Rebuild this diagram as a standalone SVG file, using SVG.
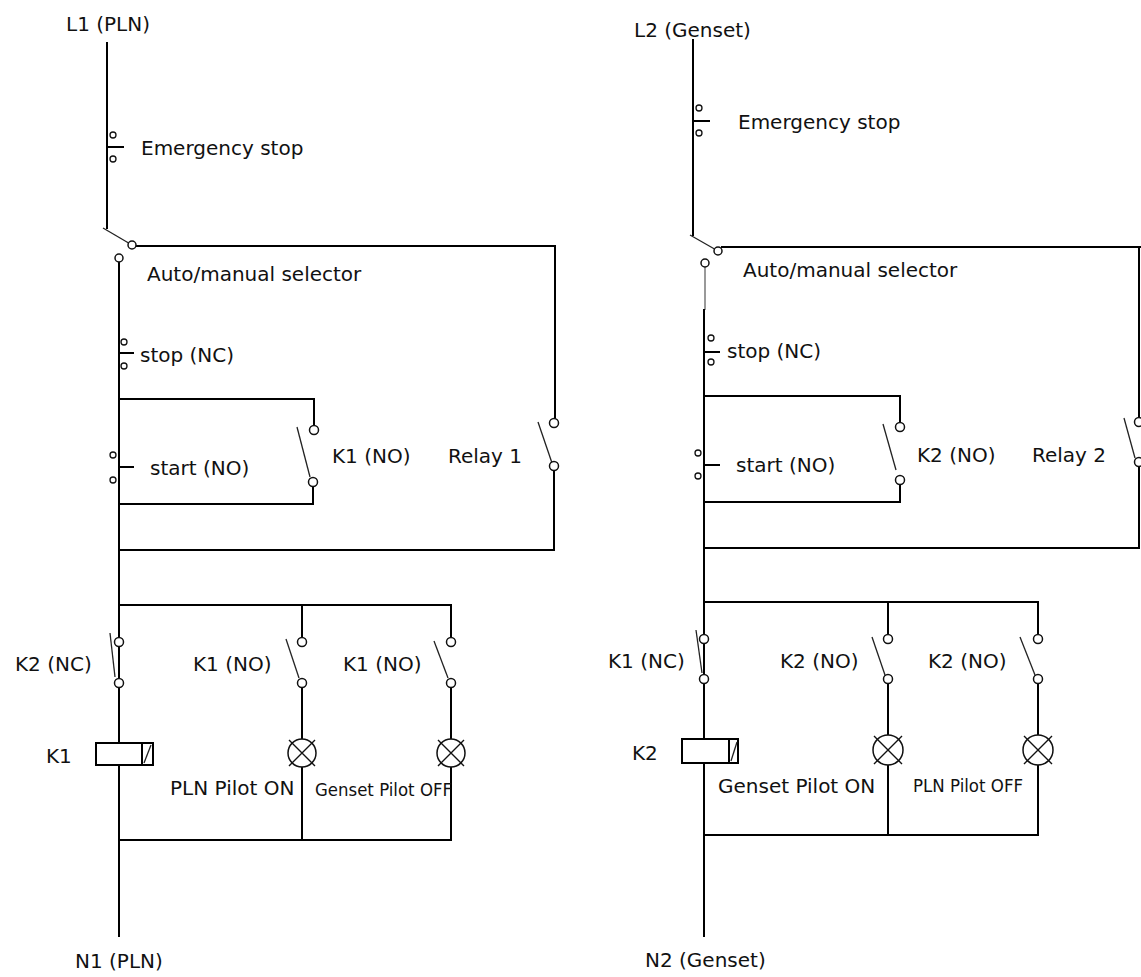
<svg xmlns="http://www.w3.org/2000/svg" width="1141" height="977" viewBox="0 0 1141 977">
<style>
.w{stroke:#000;stroke-width:2;fill:none;stroke-linecap:square}
.g{stroke:#999;stroke-width:2;fill:none}
.b{stroke:#222;stroke-width:1.3;fill:none}
.t{fill:#fff;stroke:#111;stroke-width:1.5}
.s{fill:#fff;stroke:#111;stroke-width:1.3}
.box{fill:#fff;stroke:#000;stroke-width:2}
.lp{fill:#fff;stroke:#111;stroke-width:1.5}
.x{stroke:#111;stroke-width:1.4}
text{font-family:"DejaVu Sans","Liberation Sans",sans-serif;font-size:20px;fill:#111}
.sm{font-size:17px}
</style>
<g id="connectors">
  <!-- Left circuit wires -->
  <path class="w" d="M107 43 V228"/>
  <path class="w" d="M136 246 H555 V419"/>
  <path class="w" d="M119 262 V936"/>
  <path class="w" d="M119 399 H314 V426"/>
  <path class="w" d="M313 486 V504 H119"/>
  <path class="w" d="M554 470 V550 H119"/>
  <path class="w" d="M119 605 H451 V638"/>
  <path class="w" d="M302 605 V638"/>
  <path class="w" d="M302 687 V840"/>
  <path class="w" d="M451 687 V840 H119"/>
  <!-- Right circuit wires -->
  <path class="w" d="M693 40 V235"/>
  <path class="w" d="M722 247 H1141"/>
  <path class="w" d="M1139 247 V418"/>
  <path class="g" d="M705 267 V310"/>
  <path class="w" d="M704 310 V936"/>
  <path class="w" d="M704 396 H900 V423"/>
  <path class="w" d="M900 484 V502 H704"/>
  <path class="w" d="M1139 466 V548 H704"/>
  <path class="w" d="M704 602 H1038 V635"/>
  <path class="w" d="M888 602 V635"/>
  <path class="w" d="M888 683 V835"/>
  <path class="w" d="M1038 683 V835 H704"/>
</g>
<g id="L1"><text x="66" y="31">L1 (PLN)</text></g>
<g id="estop1">
  <circle class="s" cx="113" cy="135" r="3"/><circle class="s" cx="113" cy="159" r="3"/>
  <path class="w" d="M107 147 H123"/>
  <text x="141" y="155">Emergency stop</text>
</g>
<g id="selector1">
  <path class="b" d="M103 228 L132 245"/>
  <circle class="t" cx="132" cy="245" r="4"/>
  <circle class="t" cx="119" cy="258" r="4"/>
  <text x="147" y="281">Auto/manual selector</text>
</g>
<g id="stop1">
  <circle class="s" cx="124" cy="342" r="3"/><circle class="s" cx="124" cy="366" r="3"/>
  <path class="w" d="M119 353 H133"/>
  <text x="140" y="362">stop (NC)</text>
</g>
<g id="start1">
  <circle class="s" cx="113" cy="455" r="3"/><circle class="s" cx="113" cy="480" r="3"/>
  <path class="w" d="M119 467 H133"/>
  <text x="150" y="475">start (NO)</text>
</g>
<g id="k1hold">
  <path class="b" d="M297 427 L310 477"/>
  <circle class="t" cx="314" cy="430" r="4.5"/><circle class="t" cx="313" cy="482" r="4.5"/>
  <text x="332" y="463">K1 (NO)</text>
</g>
<g id="relay1">
  <path class="b" d="M538 422 L552 463"/>
  <circle class="t" cx="554" cy="423" r="4.5"/><circle class="t" cx="554" cy="466" r="4.5"/>
  <text x="448" y="463">Relay 1</text>
</g>
<g id="k2nc1">
  <path class="b" d="M110 633 L115 677"/>
  <circle class="t" cx="119" cy="642" r="4.5"/><circle class="t" cx="119" cy="683" r="4.5"/>
  <text x="15" y="671">K2 (NC)</text>
</g>
<g id="k1no1a">
  <path class="b" d="M286 639 L299 678"/>
  <circle class="t" cx="302" cy="642" r="4.5"/><circle class="t" cx="302" cy="683" r="4.5"/>
  <text x="193" y="671">K1 (NO)</text>
</g>
<g id="k1no1b">
  <path class="b" d="M434 641 L448 678"/>
  <circle class="t" cx="451" cy="642" r="4.5"/><circle class="t" cx="451" cy="683" r="4.5"/>
  <text x="343" y="671">K1 (NO)</text>
</g>
<g id="coilK1">
  <rect class="box" x="96" y="743" width="57" height="22"/>
  <path class="w" d="M142 743 V765"/>
  <path class="b" d="M144 763 L151 745"/>
  <text x="46" y="763">K1</text>
</g>
<g id="lamp1a">
  <circle class="lp" cx="302" cy="753" r="14"/>
  <path class="x" d="M289 740 L315 766 M315 740 L289 766"/>
  <text x="170" y="795">PLN Pilot ON</text>
</g>
<g id="lamp1b">
  <circle class="lp" cx="451" cy="753" r="14"/>
  <path class="x" d="M438 740 L464 766 M464 740 L438 766"/>
  <text class="sm" x="315" y="796" textLength="137" lengthAdjust="spacingAndGlyphs">Genset Pilot OFF</text>
</g>
<g id="N1"><text x="75" y="968">N1 (PLN)</text></g>

<g id="L2"><text x="634" y="37">L2 (Genset)</text></g>
<g id="estop2">
  <circle class="s" cx="699" cy="108" r="3"/><circle class="s" cx="699" cy="133" r="3"/>
  <path class="w" d="M693 121 H709"/>
  <text x="738" y="129">Emergency stop</text>
</g>
<g id="selector2">
  <path class="b" d="M690 235 L718 251"/>
  <circle class="t" cx="718" cy="251" r="4"/>
  <circle class="t" cx="705" cy="263" r="4"/>
  <text x="743" y="277">Auto/manual selector</text>
</g>
<g id="stop2">
  <circle class="s" cx="711" cy="338" r="3"/><circle class="s" cx="711" cy="362" r="3"/>
  <path class="w" d="M704 352 H719"/>
  <text x="727" y="358">stop (NC)</text>
</g>
<g id="start2">
  <circle class="s" cx="698" cy="453" r="3"/><circle class="s" cx="698" cy="476" r="3"/>
  <path class="w" d="M704 465 H719"/>
  <text x="736" y="472">start (NO)</text>
</g>
<g id="k2hold">
  <path class="b" d="M883 424 L896 470"/>
  <circle class="t" cx="900" cy="427" r="4.5"/><circle class="t" cx="900" cy="480" r="4.5"/>
  <text x="917" y="462">K2 (NO)</text>
</g>
<g id="relay2">
  <path class="b" d="M1124 418 L1135 458"/>
  <circle class="t" cx="1139" cy="422" r="4.5"/><circle class="t" cx="1139" cy="462" r="4.5"/>
  <text x="1032" y="462">Relay 2</text>
</g>
<g id="k1nc2">
  <path class="b" d="M696 630 L702 673"/>
  <circle class="t" cx="704" cy="639" r="4.5"/><circle class="t" cx="704" cy="679" r="4.5"/>
  <text x="608" y="668">K1 (NC)</text>
</g>
<g id="k2no2a">
  <path class="b" d="M872 637 L885 675"/>
  <circle class="t" cx="888" cy="639" r="4.5"/><circle class="t" cx="888" cy="679" r="4.5"/>
  <text x="780" y="668">K2 (NO)</text>
</g>
<g id="k2no2b">
  <path class="b" d="M1020 637 L1035 675"/>
  <circle class="t" cx="1038" cy="639" r="4.5"/><circle class="t" cx="1038" cy="679" r="4.5"/>
  <text x="928" y="668">K2 (NO)</text>
</g>
<g id="coilK2">
  <rect class="box" x="682" y="739" width="56" height="24"/>
  <path class="w" d="M729 739 V763"/>
  <path class="b" d="M731 761 L737 742"/>
  <text x="632" y="760">K2</text>
</g>
<g id="lamp2a">
  <circle class="lp" cx="888" cy="750" r="15"/>
  <path class="x" d="M874 736 L902 764 M902 736 L874 764"/>
  <text x="718" y="793">Genset Pilot ON</text>
</g>
<g id="lamp2b">
  <circle class="lp" cx="1038" cy="750" r="15"/>
  <path class="x" d="M1024 736 L1052 764 M1052 736 L1024 764"/>
  <text class="sm" x="913" y="792" textLength="110" lengthAdjust="spacingAndGlyphs">PLN Pilot OFF</text>
</g>
<g id="N2"><text x="645" y="967">N2 (Genset)</text></g>
</svg>
